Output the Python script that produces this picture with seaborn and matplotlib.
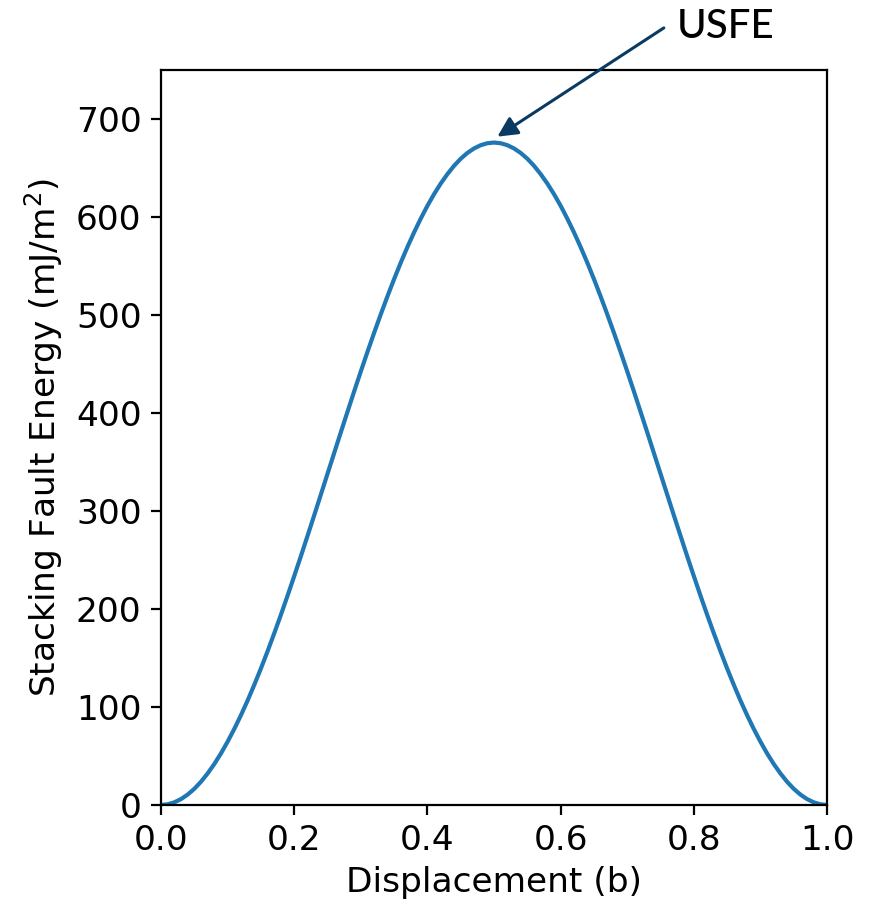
import matplotlib
matplotlib.use("Agg")
import matplotlib.pyplot as plt
import seaborn as sns
import pandas as pd

# Generalized stacking fault energy along the slip path (displacement in units of b)
displacement = [
    0.00, 0.01, 0.02, 0.03, 0.04, 0.05, 0.06, 0.07, 0.08, 0.09,
    0.10, 0.11, 0.12, 0.13, 0.14, 0.15, 0.16, 0.17, 0.18, 0.19,
    0.20, 0.21, 0.22, 0.23, 0.24, 0.25, 0.26, 0.27, 0.28, 0.29,
    0.30, 0.31, 0.32, 0.33, 0.34, 0.35, 0.36, 0.37, 0.38, 0.39,
    0.40, 0.41, 0.42, 0.43, 0.44, 0.45, 0.46, 0.47, 0.48, 0.49,
    0.50, 0.51, 0.52, 0.53, 0.54, 0.55, 0.56, 0.57, 0.58, 0.59,
    0.60, 0.61, 0.62, 0.63, 0.64, 0.65, 0.66, 0.67, 0.68, 0.69,
    0.70, 0.71, 0.72, 0.73, 0.74, 0.75, 0.76, 0.77, 0.78, 0.79,
    0.80, 0.81, 0.82, 0.83, 0.84, 0.85, 0.86, 0.87, 0.88, 0.89,
    0.90, 0.91, 0.92, 0.93, 0.94, 0.95, 0.96, 0.97, 0.98, 0.99,
    1.00,
]
energy = [
    0.0, 0.7, 2.7, 6.0, 10.6, 16.5, 23.7, 32.2, 41.8, 52.6,
    64.6, 77.6, 91.6, 106.6, 122.6, 139.3, 156.9, 175.2, 194.1, 213.6,
    233.6, 253.9, 274.7, 295.6, 316.8, 338.0, 359.2, 380.4, 401.3, 422.1,
    442.5, 462.4, 481.9, 500.8, 519.1, 536.7, 553.5, 569.4, 584.4, 598.4,
    611.5, 623.4, 634.2, 643.8, 652.3, 659.5, 665.4, 670.0, 673.3, 675.3,
    676.0, 675.3, 673.3, 670.0, 665.4, 659.5, 652.3, 643.8, 634.2, 623.4,
    611.5, 598.4, 584.4, 569.4, 553.5, 536.7, 519.1, 500.8, 481.9, 462.4,
    442.5, 422.1, 401.3, 380.4, 359.2, 338.0, 316.8, 295.6, 274.7, 253.9,
    233.6, 213.6, 194.1, 175.2, 156.9, 139.3, 122.6, 106.6, 91.6, 77.6,
    64.6, 52.6, 41.8, 32.2, 23.7, 16.5, 10.6, 6.0, 2.7, 0.7,
    0.0,
]
x_ticks = [0.0, 0.2, 0.4, 0.6, 0.8, 1.0]
y_ticks = [0, 100, 200, 300, 400, 500, 600, 700]
usfe_label = "USFE"

df = pd.DataFrame({"Displacement": displacement, "Energy": energy})
peak = df.loc[df["Energy"].idxmax()]

plt.rcParams["font.family"] = ["DejaVu Sans"]

fig = plt.figure(figsize=(869 / 200, 899 / 200), dpi=200)
ax = fig.add_axes([0.1853, 0.1046, 0.9517 - 0.1853, 0.9221 - 0.1046])

sns.lineplot(data=df, x="Displacement", y="Energy", ax=ax,
             color="#1f77b4", linewidth=1.5)

ax.set_xlim(0, 1)
ax.set_ylim(0, 750)
ax.set_xticks(x_ticks)
ax.set_yticks(y_ticks)
ax.set_xlabel("Displacement (b)", fontsize=12.4, labelpad=3)
ax.set_ylabel("Stacking Fault Energy (mJ/m$^2$)", fontsize=12.4)
ax.tick_params(labelsize=12.4)

# Arrow pointing at the unstable stacking fault energy (curve maximum)
ax.annotate("", xy=(peak["Displacement"] + 0.005, peak["Energy"] + 6),
            xytext=(0.755, 793), textcoords="data", annotation_clip=False,
            arrowprops=dict(arrowstyle="-|>", color="#0a3a62", lw=1.1,
                            mutation_scale=15, shrinkA=0, shrinkB=0))
ax.text(0.774, 782.5, usfe_label, ha="left", va="baseline",
        fontsize=14.5, fontfamily="Lato", fontweight="medium", clip_on=False)

fig.savefig("out.png", dpi=200)
